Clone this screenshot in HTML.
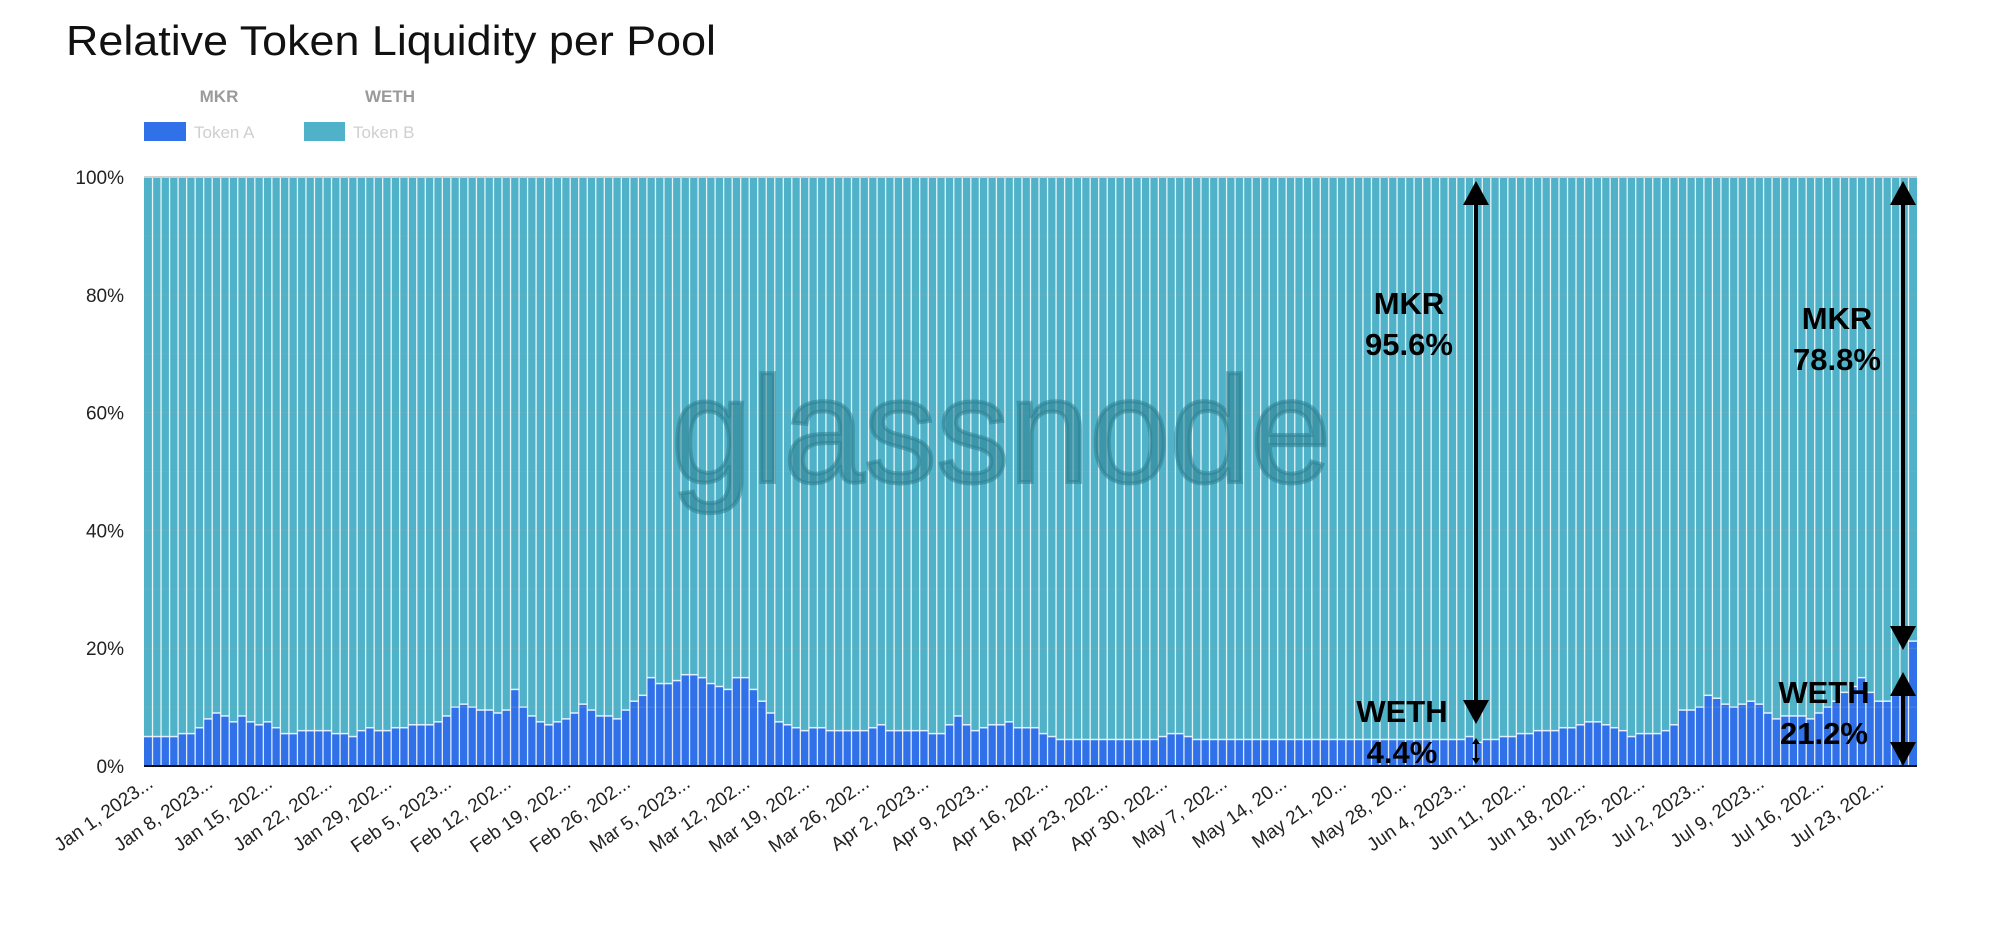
<!DOCTYPE html>
<html><head><meta charset="utf-8">
<style>
html,body{margin:0;padding:0;background:#fff;}
body{width:2000px;height:944px;overflow:hidden;position:relative;font-family:"Liberation Sans",sans-serif;}
svg{position:absolute;left:0;top:0;}
</style></head>
<body>
<svg id="s" width="2000" height="944" viewBox="0 0 2000 944" xmlns="http://www.w3.org/2000/svg">
<text x="66" y="55" font-size="42" fill="#111" font-family="Liberation Sans, sans-serif" textLength="650" lengthAdjust="spacingAndGlyphs">Relative Token Liquidity per Pool</text>
<text x="219" y="102" font-size="17" font-weight="bold" fill="#9a9a9a" text-anchor="middle">MKR</text>
<text x="390" y="102" font-size="17" font-weight="bold" fill="#9a9a9a" text-anchor="middle">WETH</text>
<rect x="144" y="122" width="42" height="19" fill="#3070e8"/>
<text x="194" y="138" font-size="17" fill="#cfcfcf">Token A</text>
<rect x="304" y="122" width="41" height="19" fill="#4fb2c8"/>
<text x="353" y="138" font-size="17" fill="#cfcfcf">Token B</text>
<g id="bars"></g>
<g id="ylab" font-size="19" fill="#222" text-anchor="end"></g>
<g id="xlab" font-size="19" fill="#222" text-anchor="end"></g>
<text x="1001" y="482" font-size="150" fill="#2e7f8f" fill-opacity="0.55" stroke="#2e7f8f" stroke-opacity="0.55" stroke-width="4" text-anchor="middle" textLength="660" lengthAdjust="spacingAndGlyphs">glassnode</text>
<g id="ann"></g>
</svg>
<script>
var NS="http://www.w3.org/2000/svg";
function el(p,t,a,txt){var e=document.createElementNS(NS,t);for(var k in a)e.setAttribute(k,a[k]);if(txt!=null)e.textContent=txt;p.appendChild(e);return e;}
var L=144,R=1917,T=177,B=766,H=B-T;
var N=208,bw=(R-L)/N;
var kp=[[113,5.2],[135,5],[145,5.5],[155,6],[162,8],[172,9],[182,7.5],[192,8.5],[200,7],[212,7.5],[225,5],[235,6],[255,6],[265,5.5],[275,5],[285,6.5],[300,6],[310,6.5],[330,7],[345,7.5],[360,10.5],[375,9.5],[385,9.5],[395,8.5],[403,13],[412,9.5],[425,7],[440,7.5],[450,9],[458,10.5],[470,8.5],[485,8],[495,11],[505,12],[512,15.5],[520,13],[528,15],[535,13],[540,18],[545,15],[552,15],[560,13.5],[570,13],[580,16],[590,13],[600,10],[610,7.5],[620,6.5],[630,6],[640,6.5],[660,6],[680,6],[690,7],[700,6],[720,6],[740,5.5],[745,7],[752,9],[760,6],[780,7],[790,7.5],[800,6.5],[810,6.5],[820,5],[840,4.5],[860,4.5],[900,4.5],[920,5.5],[940,4.5],[1000,4.5],[1050,4.5],[1100,4.4],[1140,4.4],[1150,5],[1160,4],[1180,5],[1195,5.5],[1210,6],[1230,6.5],[1245,7.5],[1260,7],[1270,6.5],[1280,5],[1290,5.5],[1300,5.5],[1310,6],[1320,10],[1330,9],[1340,12],[1350,11],[1360,10],[1370,11],[1380,10.5],[1390,8],[1400,8.5],[1410,8.5],[1420,8],[1435,10.5],[1450,13],[1460,15],[1470,11],[1480,11],[1490,13],[1496,13.2]];
function val(d){var x=(L+(d+0.5)*bw)/1.2755;if(x<=kp[0][0])return kp[0][1];
for(var i=1;i<kp.length;i++){if(x<=kp[i][0]){var a=kp[i-1],b=kp[i];return a[1]+(b[1]-a[1])*(x-a[0])/(b[0]-a[0]);}}return kp[kp.length-1][1];}
var g=document.getElementById("bars");
el(g,"rect",{x:L,y:T,width:R-L,height:H,fill:"#4fb2c8"});
for(var d=0;d<N;d++){var v=(d==N-1)?21.2:Math.round(val(d)*2)/2;var x=L+d*bw,h=v/100*H;
el(g,"rect",{x:x,y:B-h,width:bw,height:h,fill:"#3070e8"});
el(g,"line",{x1:x,y1:B-h,x2:x+bw,y2:B-h,stroke:"#dfefff","stroke-width":1.5});}
for(var i=1;i<10;i++){var y=B-i*H/10;el(g,"line",{x1:L,y1:y,x2:R,y2:y,stroke:"#8fa9ad","stroke-opacity":0.35,"stroke-width":1});}
for(var d=1;d<N;d++){var x=L+d*bw;el(g,"line",{x1:x,y1:T,x2:x,y2:B,stroke:"#fff","stroke-opacity":0.85,"stroke-width":1.3});}
el(g,"line",{x1:L,y1:T,x2:R,y2:T,stroke:"#d0d0d0","stroke-width":2});
el(g,"line",{x1:L,y1:B,x2:R,y2:B,stroke:"#111","stroke-width":2});
var yl=document.getElementById("ylab");
for(var i=0;i<=5;i++){el(yl,"text",{x:124,y:B-i*H/5+7},(i*20)+"%");}
var labs=["Jan 1, 2023...","Jan 8, 2023...","Jan 15, 202...","Jan 22, 202...","Jan 29, 202...","Feb 5, 2023...","Feb 12, 202...","Feb 19, 202...","Feb 26, 202...","Mar 5, 2023...","Mar 12, 202...","Mar 19, 202...","Mar 26, 202...","Apr 2, 2023...","Apr 9, 2023...","Apr 16, 202...","Apr 23, 202...","Apr 30, 202...","May 7, 202...","May 14, 20...","May 21, 20...","May 28, 20...","Jun 4, 2023...","Jun 11, 202...","Jun 18, 202...","Jun 25, 202...","Jul 2, 2023...","Jul 9, 2023...","Jul 16, 202...","Jul 23, 202..."];
var xl=document.getElementById("xlab");
for(var i=0;i<labs.length;i++){var x=L+(i*7+0.5)*bw+6,y=786;
el(xl,"text",{x:x,y:y,transform:"rotate(-35 "+x+" "+y+")"},labs[i]);}
var an=document.getElementById("ann");
function arrow(x,y1,y2,hw,hh,sw){
el(an,"line",{x1:x,y1:y1+hh-2,x2:x,y2:y2-hh+2,stroke:"#000","stroke-width":sw});
el(an,"polygon",{points:(x-hw)+","+(y1+hh)+" "+(x+hw)+","+(y1+hh)+" "+x+","+y1,fill:"#000"});
el(an,"polygon",{points:(x-hw)+","+(y2-hh)+" "+(x+hw)+","+(y2-hh)+" "+x+","+y2,fill:"#000"});}
arrow(1476,181,724,13,24,4);
arrow(1476,738,764,4,6,2);
arrow(1903,181,650,13,24,4);
arrow(1903,672,766,13,24,4);
function t(x,y,s){el(an,"text",{x:x,y:y,"font-size":31,"font-weight":"bold",fill:"#000","text-anchor":"middle"},s);}
t(1409,314,"MKR");t(1409,355,"95.6%");
t(1402,722,"WETH");t(1402,763,"4.4%");
t(1837,329,"MKR");t(1837,370,"78.8%");
t(1824,703,"WETH");t(1824,744,"21.2%");
</script>
</body></html>
